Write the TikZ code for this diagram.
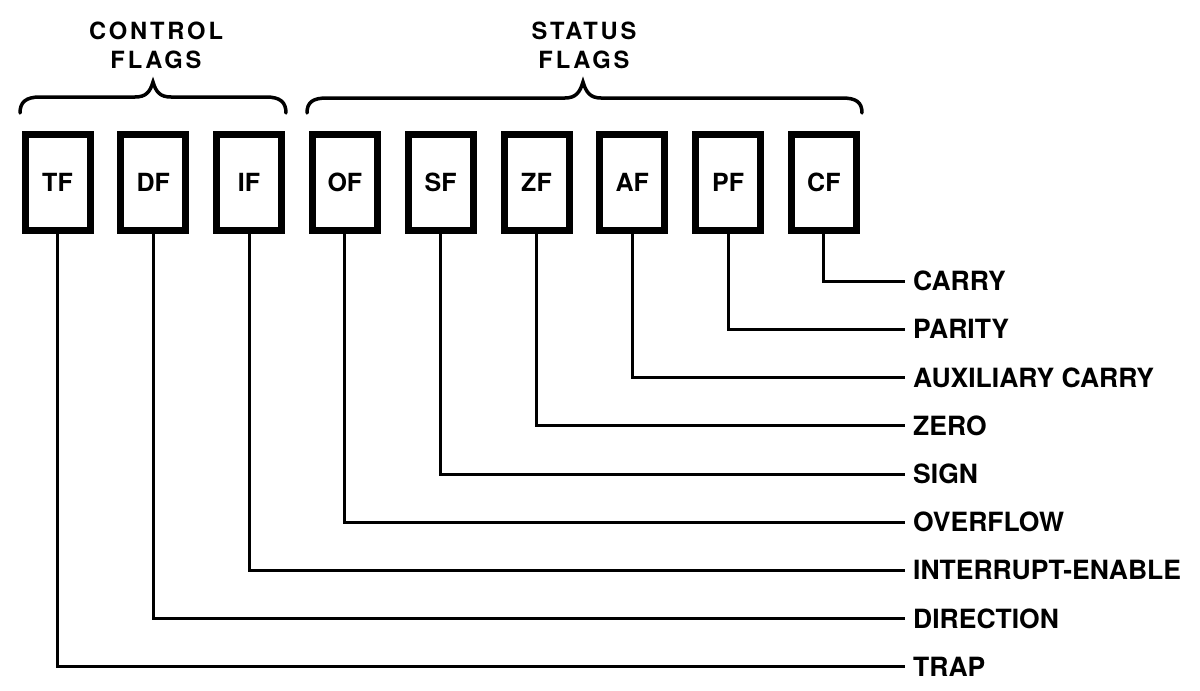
\documentclass[tikz,border=0pt]{standalone}
\usepackage{fontspec}
\setmainfont{TeX Gyre Heros}
\begin{document}
\begin{tikzpicture}[x=1pt,y=-1pt,
  flagbox/.style={draw,line width=7pt,minimum width=65pt,minimum height=96pt,inner sep=0pt,
    font=\fontsize{25}{25}\selectfont\bfseries},
  lbl/.style={anchor=west,inner sep=0pt,font=\fontsize{26.5}{26.5}\selectfont\bfseries},
  head/.style={inner sep=0pt,align=center,font=\fontsize{23.7}{29}\selectfont\bfseries\addfontfeature{LetterSpace=12}},
  conn/.style={line width=3pt},
  brace/.style={line width=3.5pt,line cap=round}]
\useasboundingbox (0,0) rectangle (1200,691);
% flag boxes
\foreach \n/\t [count=\i from 0] in {tf/TF,df/DF,if/IF,of/OF,sf/SF,zf/ZF,af/AF,pf/PF,cf/CF}
  \node[flagbox] (\n) at (57.5+95.8*\i,182.5) {\t};
% labels
\node[lbl] (carry) at (913,281) {CARRY};
\node[lbl] (parity) at (913,329) {PARITY};
\node[lbl] (aux) at (913,377.5) {AUXILIARY CARRY};
\node[lbl] (zero) at (913,425.5) {ZERO};
\node[lbl] (sign) at (913,474) {SIGN};
\node[lbl] (over) at (913,522) {OVERFLOW};
\node[lbl] (intr) at (913,570) {INTERRUPT-ENABLE};
\node[lbl] (dir) at (913,618.5) {DIRECTION};
\node[lbl] (trap) at (913,666.5) {TRAP};
% connectors
\foreach \a/\b in {cf/carry,pf/parity,af/aux,zf/zero,sf/sign,of/over,if/intr,df/dir,tf/trap}
  \draw[conn] (\a.south) |- ([xshift=-8pt]\b.west);
% headings
\node[head] (ctl) at (156,45) {CONTROL\\FLAGS};
\node[head] (sts) at (584,45) {STATUS\\FLAGS};
% braces
\draw[brace] (20,113) .. controls (20,102) and (26,97) .. (40,97) -- (135,97)
  .. controls (146,97) and (150,92) .. (153,82) .. controls (156,92) and (160,97) .. (171,97)
  -- (266,97) .. controls (280,97) and (286,102) .. (286,113);
\draw[brace] (307,113) .. controls (307,102) and (313,98) .. (327,98) -- (565,98)
  .. controls (576,98) and (580,92) .. (583,82) .. controls (586,92) and (590,98) .. (601,98)
  -- (842,98) .. controls (856,98) and (862,102) .. (862,113);
\end{tikzpicture}
\end{document}
